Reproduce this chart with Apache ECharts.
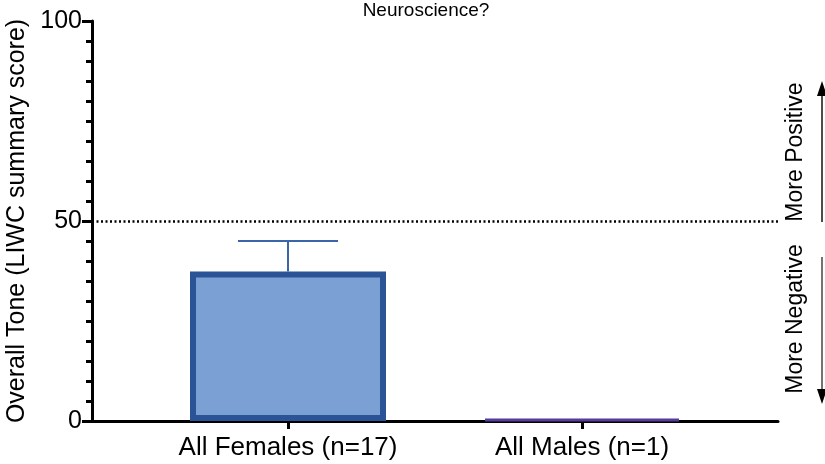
<!DOCTYPE html>
<html>
<head>
<meta charset="utf-8">
<script src="https://cdn.jsdelivr.net/npm/echarts@6/dist/echarts.min.js"></script>
<style>
html,body{margin:0;padding:0;background:#fff;}
#chart{width:825px;height:464px;}
</style>
</head>
<body>
<div id="chart"></div>
<script>
// ---- data ----
const titleText = 'Neuroscience?';
const yAxisTitle = 'Overall Tone (LIWC summary score)';
const categories = ['All Females (n=17)', 'All Males (n=1)'];
const means = [37.4, 0.5];
const errorTop = [45, null];
const referenceLine = 50;
const yTicks = [0, 50, 100];
const annotations = ['More Positive', 'More Negative'];

// category slots on the padded axis (layout only)
const slotIndex = [2, 5];
const axisCats = ['', '', '', '', '', '', '', ''];
categories.forEach((c, i) => { axisCats[slotIndex[i]] = c; });

const FONT = "'Liberation Sans', Arial, Helvetica, sans-serif";
const barFill = ['#7ba1d4', '#553c9a'];
const barBorder = ['#2b5496', '#553c9a'];
const barBorderW = [6, 3];

const chart = echarts.init(document.getElementById('chart'), null, {renderer: 'canvas'});

const barData = means.map((v, i) => ({
  value: [slotIndex[i], v],
  itemStyle: {color: barFill[i], borderColor: barBorder[i], borderWidth: barBorderW[i]}
}));
const errData = [];
errorTop.forEach((t, i) => { if (t !== null) errData.push([slotIndex[i], means[i], t]); });

chart.setOption({
  animation: false,
  title: {
    text: titleText, left: 421, top: -4, textAlign: 'center',
    textStyle: {fontFamily: FONT, fontSize: 19, fontWeight: 'normal', color: '#000'}
  },
  grid: {left: 92, right: 47, top: 21, bottom: 43, containLabel: false, outerBoundsMode: 'none'},
  xAxis: {
    type: 'category', data: axisCats, boundaryGap: false,
    axisLine: {lineStyle: {color: '#000', width: 3}},
    axisTick: {length: 8, lineStyle: {color: '#000', width: 3},
      interval: function (idx, val) { return val !== ''; }},
    axisLabel: {interval: 0, margin: 14, fontFamily: FONT, fontSize: 26, color: '#000'},
    splitLine: {show: false}
  },
  yAxis: {
    type: 'value', min: 0, max: 100, interval: 50,
    name: yAxisTitle, nameLocation: 'middle', nameGap: 53, nameRotate: 90,
    nameTextStyle: {fontFamily: FONT, fontSize: 25, color: '#000'},
    axisLine: {show: true, lineStyle: {color: '#000', width: 3}},
    axisTick: {show: true, length: 10, lineStyle: {color: '#000', width: 3}},
    minorTick: {show: true, splitNumber: 10, length: 6, lineStyle: {color: '#000', width: 3}},
    axisLabel: {margin: 10, fontFamily: FONT, fontSize: 25, color: '#000',
      formatter: function (v) { return yTicks.indexOf(v) >= 0 ? String(v) : ''; }},
    splitLine: {show: false}
  },
  series: [
    {
      type: 'bar', barWidth: 196, data: barData,
      markLine: {
        silent: true, symbol: 'none', label: {show: false},
        lineStyle: {color: '#000', width: 2.5, type: [2, 2.5]},
        data: [{yAxis: referenceLine}]
      }
    },
    {
      type: 'custom', data: errData, z: 3,
      renderItem: function (params, api) {
        const x = api.value(0);
        const pLo = api.coord([x, api.value(1)]);
        const pHi = api.coord([x, api.value(2)]);
        const style = {stroke: '#3a65a8', lineWidth: 2};
        return {type: 'group', children: [
          {type: 'line', shape: {x1: pLo[0], y1: pLo[1], x2: pHi[0], y2: pHi[1]}, style: style},
          {type: 'line', shape: {x1: pHi[0] - 50, y1: pHi[1], x2: pHi[0] + 50, y2: pHi[1]}, style: style}
        ]};
      }
    }
  ],
  graphic: [
    {type: 'text', x: 796, y: 152, rotation: Math.PI / 2,
      style: {text: annotations[0], font: '23px ' + FONT, fill: '#000', align: 'center', verticalAlign: 'middle'}},
    {type: 'text', x: 796, y: 319, rotation: Math.PI / 2,
      style: {text: annotations[1], font: '23px ' + FONT, fill: '#000', align: 'center', verticalAlign: 'middle'}},
    {type: 'line', shape: {x1: 822, y1: 222, x2: 822, y2: 92}, style: {stroke: '#111', lineWidth: 1.5}},
    {type: 'polygon', shape: {points: [[822, 81], [817, 96], [827, 96]]}, style: {fill: '#000'}},
    {type: 'line', shape: {x1: 822, y1: 257, x2: 822, y2: 392}, style: {stroke: '#444', lineWidth: 1.5}},
    {type: 'polygon', shape: {points: [[822, 404], [817, 389], [827, 389]]}, style: {fill: '#000'}}
  ]
});
</script>
</body>
</html>
